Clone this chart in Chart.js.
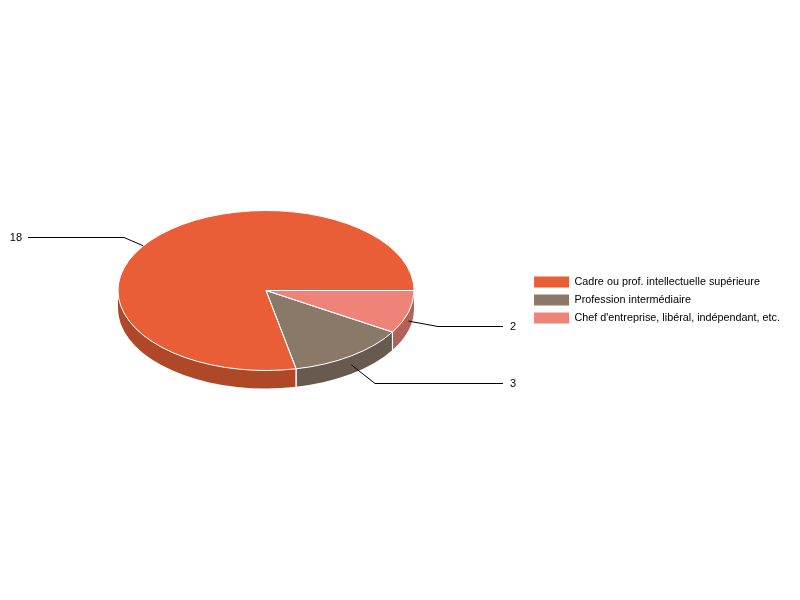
<!DOCTYPE html>
<html>
<head>
<meta charset="utf-8">
<style>html,body{margin:0;padding:0;background:#fff}canvas{display:block}</style>
<script src="https://cdn.jsdelivr.net/npm/chart.js@4"></script>
</head>
<body>
<canvas id="c" width="800" height="600"></canvas>
<script>
const categories = ["Cadre ou prof. intellectuelle supérieure", "Profession intermédiaire", "Chef d'entreprise, libéral, indépendant, etc."];
const seriesValues = [18, 3, 2];
const sliceColors = ["#e95e36", "#8a7869", "#ef8377"];

const FONT = "Liberation Sans, Arial, sans-serif";
const CX = 266, CY = 290.5, RX = 148, SQUASH = 80 / 148, DEPTH = 18;
const leaderShift = [[-19, -9, -0.09], [24, 18, 0], [29, 5, 0]]; // per category: elbow offset, anchor angle tweak

function shade(hex, f) {
  const n = parseInt(hex.slice(1), 16);
  return "rgb(" + [(n >> 16) & 255, (n >> 8) & 255, n & 255].map(v => Math.round(v * f)).join(",") + ")";
}
function place(ctx, el) {
  ctx.translate(CX, CY);
  ctx.scale(1, SQUASH);
  ctx.translate(-el.x, -el.y);
}
const pie3d = {
  id: "pie3d",
  beforeDatasetsDraw(chart) {
    const ctx = chart.ctx, meta = chart.getDatasetMeta(0), ry = RX * SQUASH;
    ctx.save();
    meta.data.forEach((el, i) => {
      const s = Math.max(el.startAngle, 0), e = Math.min(el.endAngle, Math.PI);
      if (e <= s) return;
      ctx.beginPath();
      ctx.ellipse(CX, CY, RX, ry, 0, s, e);
      ctx.ellipse(CX, CY + DEPTH, RX, ry, 0, e, s, true);
      ctx.closePath();
      ctx.fillStyle = shade(sliceColors[sliceColors.length - 1 - i], 0.75);
      ctx.fill();
    });
    ctx.strokeStyle = "#fff";
    ctx.lineWidth = 1;
    meta.data.forEach(el => {
      [el.startAngle, el.endAngle].forEach(a => {
        if (a > 0.01 && a < Math.PI - 0.01) {
          const x = CX + RX * Math.cos(a), y = CY + ry * Math.sin(a);
          ctx.beginPath(); ctx.moveTo(x, y); ctx.lineTo(x, y + DEPTH); ctx.stroke();
        }
      });
    });
    ctx.restore();
    ctx.save();
    place(ctx, meta.data[0]);
  },
  afterDatasetsDraw(chart) {
    const ctx = chart.ctx, meta = chart.getDatasetMeta(0), ry = RX * SQUASH;
    ctx.restore();
    ctx.save();
    ctx.strokeStyle = "#fff";
    ctx.lineWidth = 1;
    meta.data.forEach(el => {
      ctx.beginPath();
      ctx.moveTo(CX, CY);
      ctx.ellipse(CX, CY, RX, ry, 0, el.startAngle, el.endAngle);
      ctx.closePath();
      ctx.stroke();
    });
    ctx.restore();
    ctx.save();
    ctx.font = "11px " + FONT;
    ctx.textBaseline = "middle";
    ctx.fillStyle = "#000";
    ctx.strokeStyle = "#000";
    ctx.lineWidth = 1;
    meta.data.forEach((el, i) => {
      const k = seriesValues.length - 1 - i, sh = leaderShift[k];
      const m = (el.startAngle + el.endAngle) / 2 + sh[2];
      const sin = Math.sin(m), cos = Math.cos(m);
      const px = CX + RX * cos, py = CY + ry * sin + (sin > 0 ? DEPTH / 2 : 0);
      const ex = Math.round(px + sh[0]), ey = Math.round(py + sh[1]) + 0.5;
      const right = cos > 0;
      const endX = right ? 503 : 28;
      ctx.beginPath();
      ctx.moveTo(px, py); ctx.lineTo(ex, ey); ctx.lineTo(endX, ey); ctx.stroke();
      ctx.textAlign = right ? "left" : "right";
      ctx.fillText(String(seriesValues[k]), right ? endX + 7 : endX - 6, ey);
    });
    ctx.restore();
  }
};
new Chart(document.getElementById("c"), {
  type: "pie",
  data: {
    labels: categories.slice().reverse(),
    datasets: [{
      data: seriesValues.slice().reverse(),
      backgroundColor: sliceColors.slice().reverse(),
      borderWidth: 0,
      radius: RX,
      rotation: 90
    }]
  },
  plugins: [pie3d],
  options: {
    responsive: false,
    animation: false,
    devicePixelRatio: 1,
    layout: { padding: { right: 10 } },
    plugins: {
      tooltip: { enabled: false },
      legend: {
        position: "right",
        reverse: true,
        labels: { boxWidth: 35, boxHeight: 11, padding: 7, color: "#000", font: { family: FONT, size: 10.8 } }
      }
    }
  }
});
</script>
</body>
</html>
